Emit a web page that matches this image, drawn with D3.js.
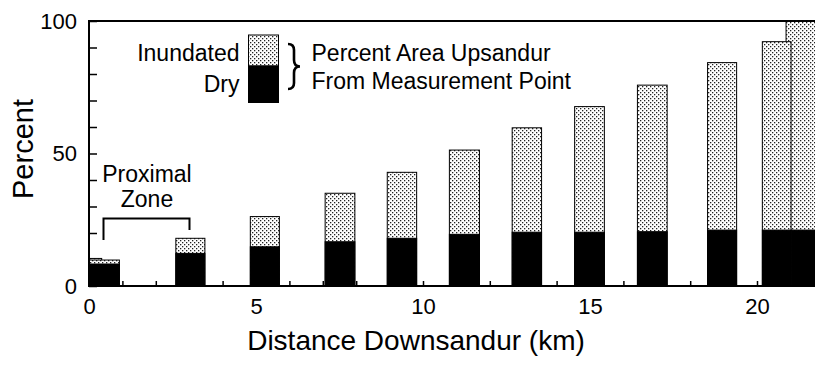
<!DOCTYPE html>
<html>
<head>
<meta charset="utf-8">
<script src="https://cdn.jsdelivr.net/npm/d3@7"></script>
<style>
  html, body { margin: 0; padding: 0; background: #fff; }
  svg { display: block; font-family: "Liberation Sans", Arial, Helvetica, sans-serif; }
</style>
</head>
<body>
<svg id="chart" width="815" height="365"></svg>
<script>
/* Percent area upsandur – inundated vs dry, by distance downsandur */

// Bars in draw order (small step at 0 km first, last two swapped so the 20 km bar sits on top)
const binStart = [0, 0, 2.60, 4.83, 7.07, 8.93, 10.79, 12.67, 14.54, 16.42, 18.52, 20.87, 20.16];
const binEnd   = [0.38, 0.91, 3.47, 5.70, 7.96, 9.81, 11.69, 13.55, 15.43, 17.31, 19.39, 22.2, 21.02];
const dryPct   = [8.3, 8.3, 12.3, 14.8, 16.7, 18.0, 19.5, 20.3, 20.3, 20.5, 21.1, 21.1, 21.1];
const totalPct = [10.4, 9.8, 18.0, 26.2, 35.0, 42.9, 51.3, 59.7, 67.7, 75.8, 84.3, 100, 92.2];

const xTicks = d3.range(0, 22);        // km, labelled every 5
const yTicks = d3.range(0, 101, 10);   // percent, labelled every 50

const W = 815, H = 365;
const svg = d3.select('#chart');

const x = d3.scaleLinear().domain([0, 20]).range([89, 757]);
const y = d3.scaleLinear().domain([0, 100]).range([286, 21]);

// --- stipple pattern for the inundated part ---
const defs = svg.append('defs');
const pat = defs.append('pattern')
  .attr('id', 'stipple')
  .attr('patternUnits', 'userSpaceOnUse')
  .attr('width', 4).attr('height', 4);
pat.append('rect').attr('width', 4).attr('height', 4).attr('fill', '#fff');
pat.append('rect').attr('x', 0).attr('y', 0).attr('width', 1.3).attr('height', 1.3).attr('fill', '#222');
pat.append('rect').attr('x', 2).attr('y', 2).attr('width', 1.3).attr('height', 1.3).attr('fill', '#222');

// --- axes (ticks point inward) ---
const xAxis = d3.axisBottom(x)
  .tickValues(xTicks)
  .tickSizeInner(-5).tickSizeOuter(0)
  .tickPadding(12)
  .tickFormat(d => d % 5 === 0 ? d : '');
const gx = svg.append('g').attr('transform', `translate(0,${y(0)})`).call(xAxis);
gx.select('.domain').remove();
gx.selectAll('line').attr('stroke', '#000').attr('stroke-width', 1.5);
gx.selectAll('text').attr('font-size', 22).attr('fill', '#000').attr('font-family', null);

const yAxis = d3.axisLeft(y)
  .tickValues(yTicks)
  .tickSizeInner(-8).tickSizeOuter(0)
  .tickPadding(12)
  .tickFormat(d => d % 50 === 0 ? d : '');
const gy = svg.append('g').attr('transform', `translate(${x(0)},0)`).call(yAxis);
gy.select('.domain').remove();
gy.selectAll('line').attr('stroke', '#000').attr('stroke-width', 1.5);
gy.selectAll('text').attr('font-size', 22).attr('fill', '#000').attr('font-family', null);

// --- bars ---
const bars = svg.append('g').attr('id', 'bars');
binStart.forEach((s, i) => {
  const x0 = x(s), x1 = x(binEnd[i]);
  bars.append('rect')
    .attr('x', x0).attr('y', y(totalPct[i]))
    .attr('width', x1 - x0).attr('height', y(0) - y(totalPct[i]))
    .attr('fill', 'url(#stipple)')
    .attr('stroke', '#000').attr('stroke-width', 1);
  bars.append('rect')
    .attr('x', x0).attr('y', y(dryPct[i]))
    .attr('width', x1 - x0).attr('height', y(0) - y(dryPct[i]))
    .attr('fill', '#000')
    .attr('stroke', '#000').attr('stroke-width', 1);
});

// --- frame lines ---
svg.append('line').attr('x1', x(0)).attr('x2', W).attr('y1', y(0)).attr('y2', y(0))
  .attr('stroke', '#000').attr('stroke-width', 2);
svg.append('line').attr('x1', x(0)).attr('x2', x(0)).attr('y1', y(100) - 1).attr('y2', y(0) + 1)
  .attr('stroke', '#000').attr('stroke-width', 2);
svg.append('line').attr('x1', x(0)).attr('x2', W).attr('y1', y(100)).attr('y2', y(100))
  .attr('stroke', '#000').attr('stroke-width', 2);

// --- axis titles ---
svg.append('text')
  .attr('transform', 'translate(33,149) rotate(-90)')
  .attr('text-anchor', 'middle')
  .attr('font-size', 29)
  .text('Percent');
svg.append('text')
  .attr('x', 416).attr('y', 350)
  .attr('text-anchor', 'middle')
  .attr('font-size', 28)
  .text('Distance Downsandur (km)');

// --- legend ---
const lg = svg.append('g').attr('id', 'legend');
lg.append('rect').attr('x', 248.5).attr('y', 35).attr('width', 30).attr('height', 31)
  .attr('fill', 'url(#stipple)').attr('stroke', '#000').attr('stroke-width', 1);
lg.append('rect').attr('x', 248.5).attr('y', 66).attr('width', 30).attr('height', 36.5)
  .attr('fill', '#000').attr('stroke', '#000').attr('stroke-width', 1);
lg.append('text').attr('x', 239.5).attr('y', 61).attr('text-anchor', 'end')
  .attr('font-size', 23).text('Inundated');
lg.append('text').attr('x', 239.5).attr('y', 92).attr('text-anchor', 'end')
  .attr('font-size', 23).text('Dry');
lg.append('path')
  .attr('d', 'M288,44 Q294,44 294,50 L294,60 Q294,66.5 300,66.5 Q294,66.5 294,73 L294,83 Q294,89 288,89')
  .attr('fill', 'none').attr('stroke', '#000').attr('stroke-width', 2.6);
lg.append('text').attr('x', 311.5).attr('y', 61)
  .attr('font-size', 23).text('Percent Area Upsandur');
lg.append('text').attr('x', 311.5).attr('y', 88.5)
  .attr('font-size', 23).text('From Measurement Point');

// --- proximal zone note ---
const pz = svg.append('g').attr('id', 'proximal');
pz.append('text').attr('x', 147).attr('y', 181.5).attr('text-anchor', 'middle')
  .attr('font-size', 23).text('Proximal');
pz.append('text').attr('x', 147).attr('y', 206.5).attr('text-anchor', 'middle')
  .attr('font-size', 23).text('Zone');
pz.append('path')
  .attr('d', 'M103.5,240 V218.5 H189.5 V230')
  .attr('fill', 'none').attr('stroke', '#000').attr('stroke-width', 2);
</script>
</body>
</html>
